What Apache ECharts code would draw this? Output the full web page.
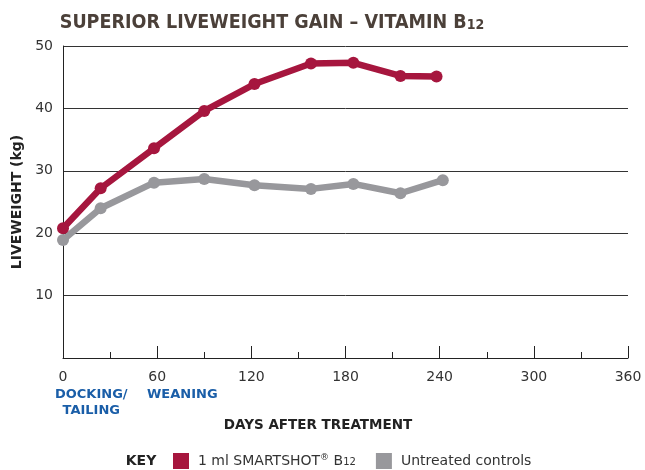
<!DOCTYPE html>
<html>
<head>
<meta charset="utf-8">
<script src="https://cdn.jsdelivr.net/npm/echarts@6/dist/echarts.min.js"></script>
<style>
  html, body { margin: 0; padding: 0; background: #fff; }
  #chart { width: 645px; height: 470px; }
</style>
</head>
<body>
<div id="chart"></div>
<script>
// days after treatment at each weighing
const treatedDays = [0, 24, 58, 90, 122, 158, 185, 215, 238];
const treatedKg = [20.8, 27.2, 33.6, 39.6, 43.9, 47.2, 47.3, 45.2, 45.1];
const controlDays = [0, 24, 58, 90, 122, 158, 185, 215, 242];
const controlKg = [18.9, 24.0, 28.1, 28.7, 27.7, 27.1, 27.9, 26.4, 28.5];

const seriesNames = ['1 ml SMARTSHOT® B12', 'Untreated controls'];
const xTicks = [0, 60, 120, 180, 240, 300, 360];
const yTicks = [10, 20, 30, 40, 50];

// event labels under the x axis (day they are centred on)
const events = [
  { text: 'DOCKING/\nTAILING', day: 18 },
  { text: 'WEANING', day: 76 }
];

const red = '#a6163e';
const grey = '#98989c';
const font = 'DejaVu Sans';
const titleFont = '"DejaVu Sans Condensed", "DejaVu Sans", sans-serif';

const chart = echarts.init(document.getElementById('chart'));

const pairs = (xs, ys) => xs.map((x, i) => [x, ys[i]]);

const option = {
  animation: false,
  title: {
    text: 'SUPERIOR LIVEWEIGHT GAIN – VITAMIN B{sub|12}',
    left: 267,
    textAlign: 'center',
    top: 8,
    textStyle: {
      fontFamily: titleFont,
      fontWeight: 'bold',
      fontSize: 19.5,
      color: '#4b4039',
      rich: {
        sub: { fontFamily: titleFont, fontWeight: 'bold', fontSize: 14, color: '#4b4039', padding: [5, 0, 0, 0] }
      }
    }
  },
  grid: { left: 63, right: 17, top: 46, bottom: 112 },
  legend: {
    left: 173,
    top: 453,
    padding: 0,
    itemWidth: 16,
    itemHeight: 16,
    itemGap: 20,
    icon: 'rect',
    data: seriesNames,
    formatter: name => name === seriesNames[0] ? '1 ml SMARTSHOT{sup|®} B{sub|12}' : name,
    textStyle: {
      fontFamily: font,
      fontSize: 14,
      color: '#333',
      padding: [0, 0, 0, 4],
      rich: {
        sup: { fontFamily: font, fontSize: 9, color: '#333', padding: [0, 0, 6, 0] },
        sub: { fontFamily: font, fontSize: 10, color: '#333', padding: [3, 0, 0, 0] }
      }
    }
  },
  xAxis: {
    type: 'value',
    min: xTicks[0],
    max: xTicks[xTicks.length - 1],
    interval: 60,
    axisLine: { lineStyle: { color: '#222', width: 1 } },
    axisTick: { show: true, inside: true, length: 12, lineStyle: { color: '#222' } },
    minorTick: { show: true, splitNumber: 2, length: 6, lineStyle: { color: '#222' } },
    splitLine: { show: false },
    axisLabel: { fontFamily: font, fontSize: 14, color: '#333', margin: 12 }
  },
  yAxis: {
    type: 'value',
    min: 0,
    max: yTicks[yTicks.length - 1],
    interval: 10,
    name: 'LIVEWEIGHT (kg)',
    nameLocation: 'middle',
    nameGap: 38,
    nameTextStyle: { fontFamily: font, fontSize: 14, fontWeight: 'bold', color: '#222' },
    axisLine: { show: true, lineStyle: { color: '#222', width: 1 } },
    axisTick: { show: false },
    splitLine: { lineStyle: { color: '#333', width: 1 } },
    axisLabel: {
      fontFamily: font, fontSize: 14, color: '#333', margin: 10,
      formatter: v => (yTicks.includes(v) ? String(v) : '')
    }
  },
  series: [
    {
      name: seriesNames[0],
      type: 'line',
      data: pairs(treatedDays, treatedKg),
      color: red,
      lineStyle: { width: 6.5, color: red },
      symbol: 'circle',
      symbolSize: 12,
      itemStyle: { color: red }
    },
    {
      name: seriesNames[1],
      type: 'line',
      data: pairs(controlDays, controlKg),
      color: grey,
      lineStyle: { width: 6.5, color: grey },
      symbol: 'circle',
      symbolSize: 12,
      itemStyle: { color: grey }
    }
  ]
};

chart.setOption(option);

// text placed from the axis scale after the first layout
const axisY = chart.convertToPixel({ yAxisIndex: 0 }, 0);
const graphics = events.map(e => ({
  type: 'text',
  x: chart.convertToPixel({ xAxisIndex: 0 }, e.day),
  y: axisY + 29,
  style: {
    text: e.text,
    fill: '#1a5ea8',
    font: 'bold 13px "DejaVu Sans"',
    align: 'center',
    verticalAlign: 'top',
    lineHeight: 16
  }
}));
graphics.push({
  type: 'text',
  x: 318,
  y: 425,
  style: { text: 'DAYS AFTER TREATMENT', fill: '#222', font: 'bold 13.5px "DejaVu Sans"', align: 'center', verticalAlign: 'middle' }
});
graphics.push({
  type: 'text',
  x: 141,
  y: 461,
  style: { text: 'KEY', fill: '#222', font: 'bold 14px "DejaVu Sans"', align: 'center', verticalAlign: 'middle' }
});
chart.setOption({ graphic: graphics });
</script>
</body>
</html>
